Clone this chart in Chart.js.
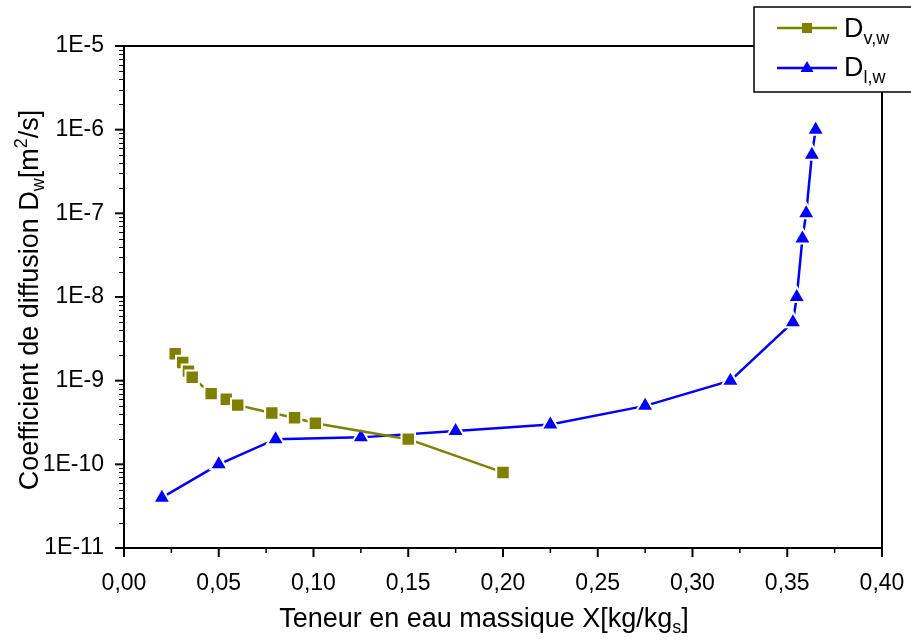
<!DOCTYPE html>
<html>
<head>
<meta charset="utf-8">
<script src="https://cdn.jsdelivr.net/npm/chart.js@4.4.0/dist/chart.umd.min.js"></script>
<style>
  html, body { margin: 0; padding: 0; background: #fff; }
</style>
</head>
<body>
<canvas id="chart" width="911" height="640"></canvas>
<script>
// x axis ticks
const xTickLabels = ["0,00", "0,05", "0,10", "0,15", "0,20", "0,25", "0,30", "0,35", "0,40"];
// y axis ticks (log)
const yTickValues = [1e-11, 1e-10, 1e-9, 1e-8, 1e-7, 1e-6, 1e-5];
const yTickLabels = ["1E-11", "1E-10", "1E-9", "1E-8", "1E-7", "1E-6", "1E-5"];

// D v,w (vapour)
const vapX = [0.027, 0.031, 0.034, 0.036, 0.046, 0.054, 0.060, 0.078, 0.090, 0.101, 0.150, 0.200];
const vapY = [2.1e-9, 1.65e-9, 1.3e-9, 1.1e-9, 7e-10, 6e-10, 5.1e-10, 4.1e-10, 3.6e-10, 3.1e-10, 2e-10, 8e-11];

// D l,w (liquid)
const liqX = [0.020, 0.050, 0.080, 0.125, 0.175, 0.225, 0.275, 0.320, 0.353, 0.355, 0.358, 0.360, 0.363, 0.365];
const liqY = [4e-11, 1e-10, 2e-10, 2.1e-10, 2.5e-10, 3e-10, 5e-10, 1e-9, 5e-9, 1e-8, 5e-8, 1e-7, 5e-7, 1e-6];

const OLIVE = "#808000";
const BLUE = "#0000ff";
const FONT = '"Liberation Sans", Arial, sans-serif';

function toPoints(xs, ys) {
  return xs.map((x, i) => ({ x: x, y: ys[i] }));
}

function line(ctx, x1, y1, x2, y2) {
  ctx.beginPath();
  ctx.moveTo(x1, y1);
  ctx.lineTo(x2, y2);
  ctx.stroke();
}

// draws text with a lowered/raised smaller part, left to right from x
function richText(ctx, parts, x, y) {
  parts.forEach(p => {
    ctx.font = p.size + "px " + FONT;
    ctx.fillText(p.t, x, y + (p.dy || 0));
    x += ctx.measureText(p.t).width;
  });
  return x;
}

function richWidth(ctx, parts) {
  let w = 0;
  parts.forEach(p => {
    ctx.font = p.size + "px " + FONT;
    w += ctx.measureText(p.t).width;
  });
  return w;
}

const frame = {
  id: "frame",
  beforeDatasetsDraw(chart) {
    const ctx = chart.ctx;
    const a = chart.chartArea;
    const xs = chart.scales.x;
    const ys = chart.scales.y;
    ctx.save();
    ctx.strokeStyle = "#000";
    ctx.lineWidth = 2;
    ctx.strokeRect(a.left, a.top, a.right - a.left, a.bottom - a.top);

    // x ticks, pointing down
    for (let i = 0; i < xTickLabels.length; i++) {
      const px = xs.getPixelForValue(i * 0.05);
      line(ctx, px, a.bottom, px, a.bottom + 9);
    }
    ctx.lineWidth = 1.5;
    for (let i = 0; i < xTickLabels.length - 1; i++) {
      const px = xs.getPixelForValue(i * 0.05 + 0.025);
      line(ctx, px, a.bottom, px, a.bottom + 5);
    }

    // y ticks, pointing left
    ctx.lineWidth = 2;
    yTickValues.forEach(v => {
      const py = ys.getPixelForValue(v);
      line(ctx, a.left - 9, py, a.left, py);
    });
    ctx.lineWidth = 1;
    for (let e = -11; e < -5; e++) {
      for (let m = 2; m <= 9; m++) {
        const py = Math.round(ys.getPixelForValue(m * Math.pow(10, e))) + 0.5;
        line(ctx, a.left - 5, py, a.left, py);
      }
    }
    ctx.restore();
  },
  afterDraw(chart) {
    const ctx = chart.ctx;
    ctx.save();
    ctx.fillStyle = "#000";
    ctx.textBaseline = "alphabetic";
    ctx.textAlign = "left";

    // x title
    const xParts = [
      { t: "Teneur en eau massique X[kg/kg", size: 27 },
      { t: "s", size: 18, dy: 6 },
      { t: "]", size: 27 }
    ];
    const xw = richWidth(ctx, xParts);
    richText(ctx, xParts, 484 - xw / 2, 627);

    // y title, rotated
    const yParts = [
      { t: "Coefficient de diffusion D", size: 27 },
      { t: "w", size: 18, dy: 6 },
      { t: "[m", size: 27 },
      { t: "2", size: 18, dy: -11 },
      { t: "/s]", size: 27 }
    ];
    const yw = richWidth(ctx, yParts);
    ctx.save();
    ctx.translate(38, 300);
    ctx.rotate(-Math.PI / 2);
    richText(ctx, yParts, -yw / 2, 0);
    ctx.restore();

    // legend box
    ctx.fillStyle = "#fff";
    ctx.fillRect(754, 7, 200, 85);
    ctx.strokeStyle = "#000";
    ctx.lineWidth = 1.5;
    ctx.strokeRect(754, 7, 200, 85);

    // row 1
    ctx.strokeStyle = OLIVE;
    ctx.lineWidth = 2.5;
    line(ctx, 777, 28, 837, 28);
    ctx.fillStyle = OLIVE;
    ctx.fillRect(802, 23, 10, 10);
    ctx.fillStyle = "#000";
    richText(ctx, [{ t: "D", size: 27 }, { t: "v,w", size: 18, dy: 7 }], 844, 37);

    // row 2
    ctx.strokeStyle = BLUE;
    line(ctx, 777, 68, 837, 68);
    ctx.fillStyle = BLUE;
    ctx.beginPath();
    ctx.moveTo(807, 61);
    ctx.lineTo(813.5, 72);
    ctx.lineTo(800.5, 72);
    ctx.closePath();
    ctx.fill();
    ctx.fillStyle = "#000";
    richText(ctx, [{ t: "D", size: 27 }, { t: "l,w", size: 18, dy: 7 }], 844, 76);

    ctx.restore();
  }
};

const ctx = document.getElementById("chart").getContext("2d");
new Chart(ctx, {
  type: "scatter",
  data: {
    datasets: [
      {
        label: "Dv,w",
        data: toPoints(vapX, vapY),
        showLine: true,
        borderColor: OLIVE,
        borderWidth: 2.5,
        backgroundColor: OLIVE,
        pointStyle: "rect",
        pointRadius: 9.5,
        pointBorderColor: "#fff",
        pointBorderWidth: 2,
        tension: 0
      },
      {
        label: "Dl,w",
        data: toPoints(liqX, liqY),
        showLine: true,
        borderColor: BLUE,
        borderWidth: 2.5,
        backgroundColor: BLUE,
        pointStyle: "triangle",
        pointRadius: 10,
        pointBorderColor: "#fff",
        pointBorderWidth: 2,
        tension: 0
      }
    ]
  },
  options: {
    responsive: false,
    animation: false,
    layout: { padding: { top: 46, right: 29, left: 0, bottom: 0 } },
    plugins: {
      legend: { display: false },
      tooltip: { enabled: false }
    },
    scales: {
      x: {
        type: "linear",
        min: 0,
        max: 0.4,
        grid: { display: false },
        border: { display: false },
        ticks: {
          stepSize: 0.05,
          autoSkip: false,
          maxRotation: 0,
          padding: 14,
          color: "#000",
          font: { family: FONT, size: 23 },
          callback: (v, i) => xTickLabels[i]
        },
        afterFit: s => {
          s.height = 92;
          s.paddingLeft = 0;
          s.paddingRight = 0;
        }
      },
      y: {
        type: "logarithmic",
        min: 1e-11,
        max: 1e-5,
        grid: { display: false },
        border: { display: false },
        afterBuildTicks: s => { s.ticks = yTickValues.map(v => ({ value: v })); },
        ticks: {
          autoSkip: false,
          padding: 12,
          color: "#000",
          font: { family: FONT, size: 23 },
          callback: (v, i) => yTickLabels[i]
        },
        afterFit: s => {
          s.width = 124;
          s.paddingTop = 0;
          s.paddingBottom = 0;
        }
      }
    }
  },
  plugins: [frame]
});
</script>
</body>
</html>
